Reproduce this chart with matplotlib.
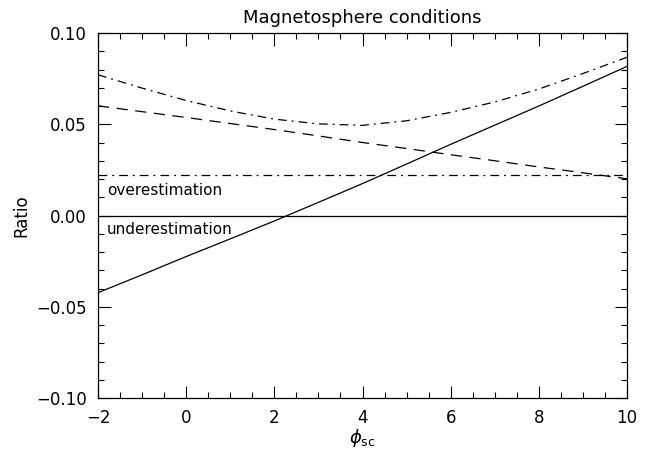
#!/usr/bin/env python
# -*- coding: utf-8 -*

import matplotlib
matplotlib.use('Agg')
import matplotlib.pyplot as plt
from matplotlib.ticker import MultipleLocator

# 横轴 phi_sc
phi = [-2, -1, 0, 1, 2, 3, 4, 5, 6, 7, 8, 9, 10]
# 实线
ratio_solid = [-0.0423, -0.0325, -0.0225, -0.0128, -0.0030, 0.0072, 0.0175,
               0.0282, 0.0390, 0.0495, 0.0600, 0.0708, 0.0817]
# 虚线
ratio_dash = [0.0601, 0.0569, 0.0537, 0.0504, 0.0471, 0.0436, 0.0400,
              0.0367, 0.0333, 0.0300, 0.0266, 0.0234, 0.0201]
# 点划线曲线
ratio_dashdot = [0.0771, 0.0698, 0.0630, 0.0573, 0.0528, 0.0502, 0.0494,
                 0.0519, 0.0565, 0.0622, 0.0693, 0.0778, 0.0867]
# 水平参考线
level_dashdot = 0.022
level_zero = 0.0

plt.rcParams['font.family'] = ['DejaVu Sans']

fig = plt.figure(figsize=(6.5, 4.53), dpi=100)
ax = fig.add_axes([98 / 650, 1 - 398 / 453, 529 / 650, 365 / 453])

lw = 0.9
ax.plot(phi, ratio_solid, color='black', lw=lw)
ax.plot(phi, ratio_dash, color='black', lw=lw, dashes=(9, 6))
ax.plot(phi, ratio_dashdot, color='black', lw=lw, dashes=(7, 4, 1.5, 4))
ax.axhline(level_dashdot, color='black', lw=lw, dashes=(7, 4, 1.5, 4))
ax.axhline(level_zero, color='black', lw=lw)

ax.text(-1.8, 0.0135, 'overestimation', fontsize=11, va='center', ha='left')
ax.text(-1.8, -0.0075, 'underestimation', fontsize=11, va='center', ha='left')

ax.set_xlim(-2, 10)
ax.set_ylim(-0.1, 0.1)
ax.xaxis.set_major_locator(MultipleLocator(2))
ax.xaxis.set_minor_locator(MultipleLocator(0.5))
ax.yaxis.set_major_locator(MultipleLocator(0.05))
ax.yaxis.set_minor_locator(MultipleLocator(0.01))
ax.set_yticks([-0.1, -0.05, 0.0, 0.05, 0.1])
ax.set_yticklabels(['\u22120.10', '\u22120.05', '0.00', '0.05', '0.10'])
ax.set_xticks([-2, 0, 2, 4, 6, 8, 10])
ax.set_xticklabels(['\u22122', '0', '2', '4', '6', '8', '10'])

ax.tick_params(which='both', direction='in', top=True, right=True,
               labelsize=12, width=0.8, pad=8)
ax.tick_params(which='major', length=9)
ax.tick_params(which='minor', length=4.5)
for s in ax.spines.values():
    s.set_linewidth(0.9)

ax.set_title('Magnetosphere conditions', fontsize=13, pad=7)
ax.set_xlabel(r'$\phi_{\rm sc}$', fontsize=13, labelpad=0)
ax.set_ylabel('Ratio', fontsize=12, labelpad=4)

fig.savefig('out.png', dpi=100)
